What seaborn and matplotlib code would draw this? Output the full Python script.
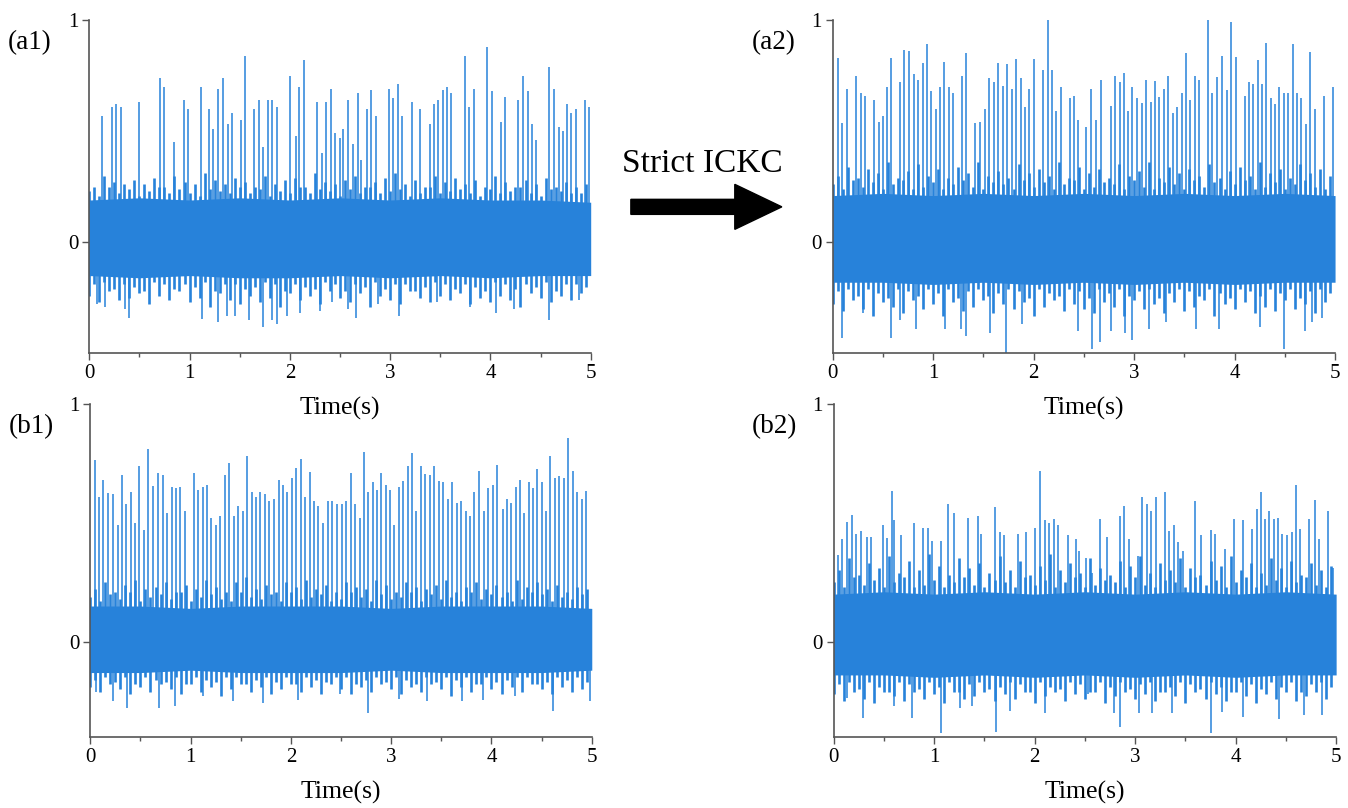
import numpy as np
import matplotlib.pyplot as plt
import seaborn as sns
from matplotlib.patches import FancyArrow

sns.set_theme(style="ticks")
plt.rcParams['font.family'] = ['Liberation Serif', 'DejaVu Serif']
plt.rcParams['text.color'] = 'black'
plt.rcParams['axes.labelcolor'] = 'black'

BLUE = "#2782DA"

# time grids
ENV_T = [0.0, 0.5, 1.0, 1.5, 2.0, 2.5, 3.0, 3.5, 4.0, 4.5, 5.0]
FRINGE_T = np.round(np.arange(0.05, 5.0, 0.1), 3)

# ---- (a1) raw signal ----
a1_env_hi = [0.19, 0.20, 0.19, 0.20, 0.19, 0.20, 0.19, 0.20, 0.19, 0.19, 0.18]
a1_env_lo = [-0.15, -0.16, -0.15, -0.16, -0.16, -0.15, -0.16, -0.15, -0.16, -0.15, -0.15]
a1_top = [0.25, 0.30, 0.27, 0.26, 0.28, 0.26, 0.29, 0.25, 0.30, 0.27,
          0.26, 0.31, 0.28, 0.26, 0.29, 0.27, 0.25, 0.30, 0.26, 0.28,
          0.29, 0.25, 0.31, 0.27, 0.26, 0.28, 0.30, 0.25, 0.27, 0.29,
          0.31, 0.26, 0.28, 0.25, 0.30, 0.27, 0.29, 0.26, 0.28, 0.25,
          0.30, 0.27, 0.25, 0.28, 0.26, 0.29, 0.25, 0.27, 0.25, 0.26]
a1_mid_top = [0.23, 0.21, 0.25, 0.22, 0.24, 0.21, 0.23, 0.25, 0.22, 0.24,
              0.22, 0.21, 0.24, 0.23, 0.22, 0.25, 0.22, 0.24, 0.21, 0.23,
              0.22, 0.25, 0.22, 0.24, 0.23, 0.21, 0.24, 0.22, 0.25, 0.22,
              0.23, 0.24, 0.21, 0.22, 0.25, 0.22, 0.23, 0.24, 0.22, 0.21,
              0.24, 0.22, 0.23, 0.25, 0.22, 0.21, 0.24, 0.23, 0.22, 0.22]
a1_mid_bot = [-0.19, -0.18, -0.21, -0.19, -0.20, -0.22, -0.18, -0.19, -0.21, -0.19,
              -0.20, -0.18, -0.22, -0.19, -0.19, -0.21, -0.20, -0.18, -0.19, -0.22,
              -0.19, -0.20, -0.21, -0.18, -0.19, -0.22, -0.19, -0.20, -0.18, -0.21,
              -0.19, -0.19, -0.22, -0.20, -0.18, -0.19, -0.21, -0.19, -0.20, -0.22,
              -0.18, -0.19, -0.21, -0.19, -0.20, -0.18, -0.22, -0.19, -0.19, -0.20]
a1_bot = [-0.24, -0.27, -0.22, -0.26, -0.25, -0.23, -0.28, -0.24, -0.26, -0.22,
          -0.27, -0.25, -0.29, -0.23, -0.26, -0.28, -0.24, -0.27, -0.25, -0.29,
          -0.23, -0.26, -0.24, -0.28, -0.22, -0.25, -0.27, -0.23, -0.29, -0.24,
          -0.26, -0.28, -0.22, -0.25, -0.27, -0.24, -0.26, -0.23, -0.28, -0.25,
          -0.27, -0.24, -0.26, -0.29, -0.23, -0.25, -0.27, -0.24, -0.26, -0.23]
a1_spike_t = [0.13, 0.23, 0.27, 0.32, 0.50, 0.71, 0.75, 0.845, 0.94, 0.985,
              1.11, 1.19, 1.23, 1.28, 1.33, 1.38, 1.42, 1.51, 1.55, 1.64,
              1.69, 1.73, 1.78, 1.82, 1.87, 2.00, 2.06, 2.09, 2.14, 2.27,
              2.32, 2.36, 2.41, 2.455, 2.50, 2.53, 2.585, 2.63, 2.68, 2.71,
              2.77, 2.81, 2.86, 2.99, 3.03, 3.08, 3.12, 3.22, 3.30, 3.40,
              3.44, 3.48, 3.53, 3.57, 3.61, 3.75, 3.79, 3.84, 3.97, 4.02,
              4.11, 4.15, 4.28, 4.33, 4.37, 4.41, 4.455, 4.585, 4.63, 4.68,
              4.72, 4.76, 4.80, 4.85, 4.94, 4.98]
a1_spike_v = [0.57, 0.61, 0.62, 0.61, 0.63, 0.74, 0.70, 0.45, 0.64, 0.60,
              0.70, 0.60, 0.51, 0.69, 0.74, 0.53, 0.58, 0.55, 0.84, 0.60,
              0.64, 0.43, 0.64, 0.64, 0.61, 0.75, 0.48, 0.70, 0.82, 0.63,
              0.40, 0.63, 0.69, 0.49, 0.47, 0.51, 0.64, 0.44, 0.67, 0.37,
              0.60, 0.685, 0.57, 0.69, 0.65, 0.71, 0.57, 0.63, 0.60, 0.53,
              0.62, 0.64, 0.685, 0.70, 0.67, 0.84, 0.61, 0.69, 0.88, 0.68,
              0.54, 0.655, 0.64, 0.75, 0.68, 0.53, 0.46, 0.79, 0.69, 0.52,
              0.50, 0.62, 0.58, 0.60, 0.64, 0.61]
a1_dip_t = [0.08, 0.16, 0.36, 0.40, 1.12, 1.28, 1.37, 1.45, 1.59, 1.73,
            1.82, 1.87, 1.97, 2.10, 2.30, 2.42, 2.58, 2.66, 2.88, 3.09,
            3.47, 3.80, 4.06, 4.24, 4.58, 4.88]
a1_dip_v = [-0.28, -0.29, -0.30, -0.34, -0.345, -0.36, -0.33, -0.33, -0.35, -0.38,
            -0.35, -0.37, -0.33, -0.32, -0.31, -0.27, -0.30, -0.34, -0.28, -0.33,
            -0.27, -0.29, -0.32, -0.30, -0.35, -0.26]

# ---- (a2) after strict ICKC ----
a2_env_hi = [0.21, 0.22, 0.21, 0.22, 0.21, 0.22, 0.21, 0.22, 0.21, 0.22, 0.21]
a2_env_lo = [-0.18, -0.18, -0.19, -0.18, -0.19, -0.18, -0.19, -0.18, -0.19, -0.18, -0.18]
a2_top = [0.30, 0.34, 0.29, 0.33, 0.31, 0.36, 0.29, 0.32, 0.35, 0.30,
          0.33, 0.29, 0.34, 0.31, 0.36, 0.30, 0.32, 0.29, 0.35, 0.31,
          0.33, 0.30, 0.36, 0.29, 0.34, 0.31, 0.33, 0.29, 0.35, 0.30,
          0.32, 0.36, 0.29, 0.34, 0.31, 0.33, 0.30, 0.35, 0.29, 0.32,
          0.34, 0.30, 0.36, 0.31, 0.33, 0.29, 0.35, 0.31, 0.33, 0.30]
a2_mid_top = [0.26, 0.24, 0.28, 0.25, 0.27, 0.24, 0.26, 0.28, 0.24, 0.25,
              0.27, 0.24, 0.26, 0.28, 0.25, 0.24, 0.27, 0.26, 0.24, 0.28,
              0.25, 0.27, 0.24, 0.26, 0.28, 0.24, 0.25, 0.27, 0.26, 0.24,
              0.28, 0.25, 0.24, 0.27, 0.26, 0.24, 0.28, 0.25, 0.27, 0.24,
              0.26, 0.28, 0.24, 0.25, 0.27, 0.24, 0.26, 0.28, 0.25, 0.24]
a2_mid_bot = [-0.22, -0.21, -0.24, -0.21, -0.23, -0.25, -0.21, -0.22, -0.24, -0.21,
              -0.23, -0.21, -0.25, -0.22, -0.21, -0.24, -0.23, -0.21, -0.22, -0.25,
              -0.21, -0.23, -0.24, -0.21, -0.22, -0.25, -0.21, -0.23, -0.21, -0.24,
              -0.22, -0.21, -0.25, -0.23, -0.21, -0.22, -0.24, -0.21, -0.23, -0.25,
              -0.21, -0.22, -0.24, -0.21, -0.23, -0.21, -0.25, -0.22, -0.21, -0.23]
a2_bot = [-0.28, -0.31, -0.26, -0.30, -0.33, -0.27, -0.29, -0.32, -0.26, -0.30,
          -0.28, -0.33, -0.27, -0.31, -0.29, -0.26, -0.32, -0.28, -0.30, -0.27,
          -0.33, -0.29, -0.26, -0.31, -0.28, -0.30, -0.32, -0.27, -0.29, -0.33,
          -0.26, -0.30, -0.28, -0.32, -0.27, -0.31, -0.29, -0.26, -0.33, -0.28,
          -0.30, -0.27, -0.32, -0.29, -0.31, -0.26, -0.30, -0.28, -0.32, -0.27]
a2_spike_t = [0.05, 0.096, 0.143, 0.232, 0.28, 0.32, 0.41, 0.46, 0.50, 0.54,
              0.58, 0.67, 0.71, 0.76, 0.81, 0.845, 0.90, 0.94, 0.98, 1.03,
              1.07, 1.11, 1.16, 1.20, 1.29, 1.33, 1.42, 1.47, 1.52, 1.555,
              1.605, 1.65, 1.695, 1.74, 1.78, 1.82, 1.87, 1.91, 1.95, 2.00,
              2.09, 2.14, 2.18, 2.22, 2.27, 2.36, 2.40, 2.445, 2.52, 2.57,
              2.62, 2.67, 2.77, 2.81, 2.86, 2.90, 2.94, 2.98, 3.03, 3.08,
              3.12, 3.17, 3.21, 3.25, 3.30, 3.34, 3.39, 3.43, 3.48, 3.52,
              3.56, 3.61, 3.65, 3.74, 3.78, 3.83, 3.87, 3.92, 3.96, 4.01,
              4.10, 4.14, 4.18, 4.23, 4.27, 4.31, 4.36, 4.40, 4.44, 4.49,
              4.53, 4.58, 4.62, 4.66, 4.71, 4.75, 4.80, 4.89, 4.98]
a2_spike_v = [0.83, 0.535, 0.69, 0.75, 0.67, 0.66, 0.64, 0.54, 0.57, 0.70,
              0.83, 0.72, 0.865, 0.86, 0.755, 0.73, 0.805, 0.89, 0.68, 0.60,
              0.70, 0.81, 0.70, 0.67, 0.75, 0.85, 0.535, 0.54, 0.60, 0.74,
              0.72, 0.805, 0.705, 0.80, 0.69, 0.825, 0.74, 0.61, 0.69, 0.825,
              0.775, 1.00, 0.775, 0.59, 0.70, 0.65, 0.66, 0.55, 0.52, 0.69,
              0.55, 0.73, 0.615, 0.75, 0.72, 0.76, 0.59, 0.70, 0.65, 0.625,
              0.73, 0.63, 0.725, 0.655, 0.69, 0.75, 0.58, 0.61, 0.67, 0.85,
              0.64, 0.75, 0.73, 1.00, 0.67, 0.745, 0.84, 0.685, 0.99, 0.835,
              0.66, 0.72, 0.71, 0.82, 0.71, 0.895, 0.65, 0.62, 0.70, 0.67,
              0.67, 0.89, 0.67, 0.65, 0.53, 0.855, 0.60, 0.66, 0.70]
a2_dip_t = [0.093, 0.30, 0.58, 0.67, 0.83, 1.12, 1.28, 1.33, 1.57, 1.73,
            1.88, 2.44, 2.58, 2.66, 2.77, 2.91, 2.98, 3.15, 3.32, 3.62,
            3.84, 4.25, 4.49, 4.70, 4.77, 4.87]
a2_dip_v = [-0.43, -0.32, -0.43, -0.35, -0.39, -0.39, -0.39, -0.42, -0.41, -0.50,
            -0.37, -0.40, -0.48, -0.45, -0.40, -0.41, -0.44, -0.39, -0.36, -0.39,
            -0.39, -0.38, -0.48, -0.40, -0.36, -0.34]

# ---- (b1) raw signal ----
b1_env_hi = [0.15, 0.15, 0.14, 0.15, 0.15, 0.15, 0.14, 0.15, 0.15, 0.15, 0.14]
b1_env_lo = [-0.13, -0.13, -0.12, -0.13, -0.13, -0.13, -0.12, -0.13, -0.13, -0.13, -0.12]
b1_top = [0.22, 0.25, 0.21, 0.24, 0.26, 0.22, 0.23, 0.25, 0.21, 0.24,
          0.22, 0.26, 0.23, 0.21, 0.25, 0.27, 0.22, 0.24, 0.21, 0.25,
          0.23, 0.26, 0.22, 0.24, 0.21, 0.25, 0.23, 0.22, 0.26, 0.24,
          0.21, 0.25, 0.23, 0.22, 0.24, 0.26, 0.21, 0.23, 0.25, 0.22,
          0.24, 0.21, 0.26, 0.23, 0.25, 0.22, 0.24, 0.21, 0.23, 0.22]
b1_mid_top = [0.19, 0.17, 0.20, 0.18, 0.21, 0.17, 0.19, 0.20, 0.18, 0.21,
              0.17, 0.19, 0.20, 0.18, 0.17, 0.21, 0.19, 0.18, 0.20, 0.17,
              0.21, 0.18, 0.19, 0.20, 0.17, 0.18, 0.21, 0.19, 0.17, 0.20,
              0.18, 0.19, 0.21, 0.17, 0.20, 0.18, 0.19, 0.17, 0.21, 0.18,
              0.20, 0.19, 0.17, 0.18, 0.21, 0.20, 0.17, 0.19, 0.18, 0.20]
b1_mid_bot = [-0.16, -0.15, -0.17, -0.15, -0.18, -0.15, -0.16, -0.17, -0.15, -0.18,
              -0.15, -0.16, -0.17, -0.15, -0.15, -0.18, -0.16, -0.15, -0.17, -0.15,
              -0.18, -0.15, -0.16, -0.17, -0.15, -0.15, -0.18, -0.16, -0.15, -0.17,
              -0.15, -0.16, -0.18, -0.15, -0.17, -0.15, -0.16, -0.15, -0.18, -0.15,
              -0.17, -0.16, -0.15, -0.15, -0.18, -0.17, -0.15, -0.16, -0.15, -0.17]
b1_bot = [-0.19, -0.21, -0.18, -0.20, -0.22, -0.19, -0.21, -0.18, -0.20, -0.22,
          -0.18, -0.21, -0.19, -0.23, -0.20, -0.18, -0.21, -0.19, -0.22, -0.20,
          -0.18, -0.21, -0.19, -0.22, -0.18, -0.20, -0.22, -0.19, -0.21, -0.18,
          -0.20, -0.22, -0.19, -0.21, -0.18, -0.20, -0.23, -0.19, -0.21, -0.18,
          -0.20, -0.22, -0.19, -0.21, -0.18, -0.20, -0.22, -0.19, -0.21, -0.20]
b1_spike_t = [0.043, 0.086, 0.13, 0.18, 0.23, 0.275, 0.32, 0.36, 0.41, 0.45,
              0.49, 0.54, 0.58, 0.63, 0.675, 0.72, 0.765, 0.81, 0.85, 0.89,
              0.94, 1.03, 1.07, 1.12, 1.16, 1.205, 1.25, 1.295, 1.34, 1.385,
              1.43, 1.47, 1.52, 1.56, 1.61, 1.65, 1.695, 1.74, 1.785, 1.83,
              1.88, 1.92, 1.96, 2.01, 2.05, 2.10, 2.14, 2.19, 2.235, 2.275,
              2.32, 2.37, 2.41, 2.46, 2.51, 2.55, 2.60, 2.64, 2.69, 2.73,
              2.77, 2.82, 2.86, 2.90, 2.95, 2.99, 3.03, 3.08, 3.12, 3.17,
              3.21, 3.25, 3.30, 3.34, 3.39, 3.43, 3.48, 3.52, 3.57, 3.61,
              3.66, 3.70, 3.75, 3.79, 3.83, 3.88, 3.93, 3.97, 4.02, 4.06,
              4.11, 4.15, 4.19, 4.24, 4.28, 4.32, 4.37, 4.41, 4.45, 4.50,
              4.54, 4.58, 4.63, 4.67, 4.72, 4.76, 4.81, 4.85, 4.90, 4.94]
b1_spike_v = [0.765, 0.61, 0.68, 0.625, 0.62, 0.49, 0.70, 0.58, 0.63, 0.50,
              0.74, 0.47, 0.81, 0.655, 0.71, 0.70, 0.54, 0.65, 0.645, 0.65,
              0.55, 0.71, 0.64, 0.65, 0.66, 0.52, 0.49, 0.53, 0.70, 0.75,
              0.53, 0.57, 0.55, 0.78, 0.63, 0.61, 0.63, 0.62, 0.59, 0.60,
              0.68, 0.66, 0.63, 0.69, 0.73, 0.77, 0.61, 0.715, 0.59, 0.57,
              0.50, 0.59, 0.59, 0.58, 0.58, 0.59, 0.71, 0.58, 0.52, 0.80,
              0.63, 0.67, 0.64, 0.71, 0.66, 0.64, 0.49, 0.65, 0.675, 0.74,
              0.795, 0.55, 0.74, 0.705, 0.70, 0.74, 0.675, 0.67, 0.60, 0.67,
              0.585, 0.59, 0.55, 0.53, 0.63, 0.72, 0.55, 0.645, 0.66, 0.745,
              0.56, 0.60, 0.585, 0.65, 0.68, 0.54, 0.67, 0.645, 0.725, 0.67,
              0.55, 0.78, 0.69, 0.695, 0.69, 0.855, 0.72, 0.63, 0.60, 0.635]
b1_dip_t = [0.06, 0.23, 0.37, 0.68, 0.84, 1.12, 1.42, 1.72, 2.07, 2.49,
            2.77, 3.08, 3.36, 3.71, 3.92, 4.23, 4.61, 4.98]
b1_dip_v = [-0.21, -0.25, -0.28, -0.28, -0.27, -0.23, -0.25, -0.26, -0.245, -0.22,
            -0.30, -0.24, -0.25, -0.25, -0.245, -0.23, -0.29, -0.25]

# ---- (b2) after strict ICKC ----
b2_env_hi = [0.20, 0.21, 0.20, 0.21, 0.20, 0.21, 0.20, 0.21, 0.20, 0.21, 0.20]
b2_env_lo = [-0.14, -0.14, -0.15, -0.14, -0.15, -0.14, -0.15, -0.14, -0.15, -0.14, -0.14]
b2_top = [0.30, 0.35, 0.28, 0.33, 0.31, 0.36, 0.29, 0.34, 0.30, 0.37,
          0.32, 0.28, 0.35, 0.31, 0.33, 0.29, 0.36, 0.30, 0.34, 0.28,
          0.32, 0.37, 0.30, 0.33, 0.29, 0.35, 0.31, 0.28, 0.34, 0.32,
          0.36, 0.29, 0.33, 0.30, 0.35, 0.31, 0.28, 0.34, 0.32, 0.36,
          0.30, 0.33, 0.29, 0.35, 0.31, 0.34, 0.28, 0.33, 0.30, 0.32]
b2_mid_top = [0.25, 0.23, 0.27, 0.24, 0.26, 0.23, 0.25, 0.27, 0.23, 0.24,
              0.26, 0.23, 0.25, 0.27, 0.24, 0.23, 0.26, 0.25, 0.23, 0.27,
              0.24, 0.26, 0.23, 0.25, 0.27, 0.23, 0.24, 0.26, 0.25, 0.23,
              0.27, 0.24, 0.23, 0.26, 0.25, 0.23, 0.27, 0.24, 0.26, 0.23,
              0.25, 0.27, 0.23, 0.24, 0.26, 0.23, 0.25, 0.27, 0.24, 0.23]
b2_mid_bot = [-0.18, -0.17, -0.20, -0.17, -0.19, -0.21, -0.17, -0.18, -0.20, -0.17,
              -0.19, -0.17, -0.21, -0.18, -0.17, -0.20, -0.19, -0.17, -0.18, -0.21,
              -0.17, -0.19, -0.20, -0.17, -0.18, -0.21, -0.17, -0.19, -0.17, -0.20,
              -0.18, -0.17, -0.21, -0.19, -0.17, -0.18, -0.20, -0.17, -0.19, -0.21,
              -0.17, -0.18, -0.20, -0.17, -0.19, -0.17, -0.21, -0.18, -0.17, -0.19]
b2_bot = [-0.22, -0.25, -0.21, -0.24, -0.26, -0.21, -0.23, -0.25, -0.21, -0.24,
          -0.22, -0.26, -0.21, -0.24, -0.23, -0.21, -0.25, -0.22, -0.24, -0.21,
          -0.26, -0.23, -0.21, -0.25, -0.22, -0.24, -0.21, -0.26, -0.23, -0.21,
          -0.24, -0.22, -0.25, -0.21, -0.23, -0.26, -0.21, -0.24, -0.22, -0.25,
          -0.21, -0.23, -0.26, -0.22, -0.24, -0.21, -0.25, -0.23, -0.21, -0.24]
b2_spike_t = [0.04, 0.085, 0.13, 0.18, 0.22, 0.27, 0.33, 0.37, 0.495, 0.535,
              0.58, 0.60, 0.67, 0.80, 0.89, 0.935, 0.98, 1.07, 1.14, 1.20,
              1.34, 1.44, 1.47, 1.60, 1.65, 1.69, 1.83, 1.91, 2.00, 2.05,
              2.10, 2.14, 2.19, 2.23, 2.33, 2.41, 2.44, 2.51, 2.57, 2.65,
              2.72, 2.85, 2.89, 2.94, 3.03, 3.07, 3.12, 3.16, 3.21, 3.30,
              3.34, 3.39, 3.43, 3.48, 3.60, 3.66, 3.75, 3.79, 3.89, 3.98,
              4.07, 4.16, 4.21, 4.25, 4.29, 4.33, 4.38, 4.42, 4.46, 4.51,
              4.56, 4.60, 4.64, 4.73, 4.79, 4.83, 4.92, 4.97]
b2_spike_v = [0.365, 0.43, 0.505, 0.535, 0.455, 0.465, 0.44, 0.44, 0.49, 0.435,
              0.635, 0.51, 0.45, 0.50, 0.48, 0.48, 0.425, 0.425, 0.58, 0.54,
              0.52, 0.53, 0.455, 0.565, 0.46, 0.45, 0.455, 0.46, 0.48, 0.72,
              0.51, 0.50, 0.515, 0.49, 0.45, 0.43, 0.38, 0.35, 0.29, 0.515,
              0.44, 0.53, 0.57, 0.43, 0.36, 0.61, 0.58, 0.55, 0.61, 0.63,
              0.465, 0.49, 0.42, 0.38, 0.59, 0.45, 0.47, 0.455, 0.39, 0.515,
              0.51, 0.475, 0.56, 0.63, 0.515, 0.55, 0.515, 0.52, 0.455, 0.45,
              0.46, 0.66, 0.475, 0.515, 0.595, 0.43, 0.55, 0.31]
b2_dip_t = [0.13, 0.29, 0.60, 0.78, 1.07, 1.26, 1.38, 1.61, 1.75, 2.10,
            2.53, 2.79, 2.85, 3.04, 3.17, 3.37, 3.75, 3.86, 4.07, 4.43,
            4.68, 4.86]
b2_dip_v = [-0.235, -0.32, -0.27, -0.32, -0.385, -0.28, -0.27, -0.38, -0.29, -0.30,
            -0.22, -0.30, -0.36, -0.30, -0.30, -0.30, -0.385, -0.295, -0.315, -0.325,
            -0.31, -0.31]

panels = [
    ("(a1)", [0.0662, 0.5627, 0.3720, 0.4125], (-0.5, 1),
     a1_env_hi, a1_env_lo, a1_top, a1_mid_top, a1_mid_bot, a1_bot,
     a1_spike_t, a1_spike_v, a1_dip_t, a1_dip_v),
    ("(a2)", [0.6177, 0.5627, 0.3727, 0.4125], (-0.5, 1),
     a2_env_hi, a2_env_lo, a2_top, a2_mid_top, a2_mid_bot, a2_bot,
     a2_spike_t, a2_spike_v, a2_dip_t, a2_dip_v),
    ("(b1)", [0.0670, 0.0882, 0.3720, 0.4118], (-0.4, 1),
     b1_env_hi, b1_env_lo, b1_top, b1_mid_top, b1_mid_bot, b1_bot,
     b1_spike_t, b1_spike_v, b1_dip_t, b1_dip_v),
    ("(b2)", [0.6185, 0.0882, 0.3727, 0.4118], (-0.4, 1),
     b2_env_hi, b2_env_lo, b2_top, b2_mid_top, b2_mid_bot, b2_bot,
     b2_spike_t, b2_spike_v, b2_dip_t, b2_dip_v),
]

fig = plt.figure(figsize=(13.48, 8.08), dpi=100)
LW_SPIKE = 1.1
LW_FRINGE = 1.9

for (lab, rect, ylim, env_hi, env_lo, top, mid_top, mid_bot, bot,
     sp_t, sp_v, dp_t, dp_v) in panels:
    ax = fig.add_axes(rect)
    ax.patch.set_alpha(0)
    ax.fill_between(ENV_T, env_lo, env_hi, color=BLUE, lw=0)
    # ragged edges of the dense noise band
    ax.vlines(FRINGE_T, 0, top, color=BLUE, lw=LW_FRINGE)
    ax.vlines(FRINGE_T - 0.05, 0, bot, color=BLUE, lw=LW_FRINGE)
    ax.vlines(FRINGE_T - 0.05, 0, mid_top, color=BLUE, lw=LW_FRINGE)
    ax.vlines(FRINGE_T, 0, mid_bot, color=BLUE, lw=LW_FRINGE)
    # impulses
    ax.vlines(sp_t, 0, sp_v, color=BLUE, lw=LW_SPIKE)
    ax.vlines(dp_t, 0, dp_v, color=BLUE, lw=LW_SPIKE)

    ax.set_xlim(0, 5)
    ax.set_ylim(*ylim)
    ax.set_xticks([0, 1, 2, 3, 4, 5])
    ax.set_xticks([0.5, 1.5, 2.5, 3.5, 4.5], minor=True)
    ax.set_yticks([0, 1])
    ax.tick_params(axis="both", which="major", length=5, width=1,
                   color="#555555", labelcolor="black", labelsize=15,
                   pad=3, direction="out")
    ax.tick_params(axis="x", which="minor", length=3, width=1,
                   color="#555555", direction="out")
    ax.set_xlabel("Time(s)", fontsize=18.5, labelpad=10, color="black")
    sns.despine(ax=ax)
    for s in ("left", "bottom"):
        ax.spines[s].set_color("#555555")
        ax.spines[s].set_linewidth(1.2)

    fig.text(rect[0] - 0.044, rect[1] + rect[3] - 0.028, lab,
             fontsize=19.5, ha="center", va="center", color="black")

fig.text(0.4612, 0.7875, "Strict ICKC", fontsize=24, ha="left",
         va="baseline", color="black")
fig.add_artist(FancyArrow(0.468, 0.744, 0.112, 0, width=0.0186,
                          head_width=0.0557, head_length=0.0349,
                          length_includes_head=True, color="black",
                          transform=fig.transFigure))

fig.savefig("out.png", dpi=100)
